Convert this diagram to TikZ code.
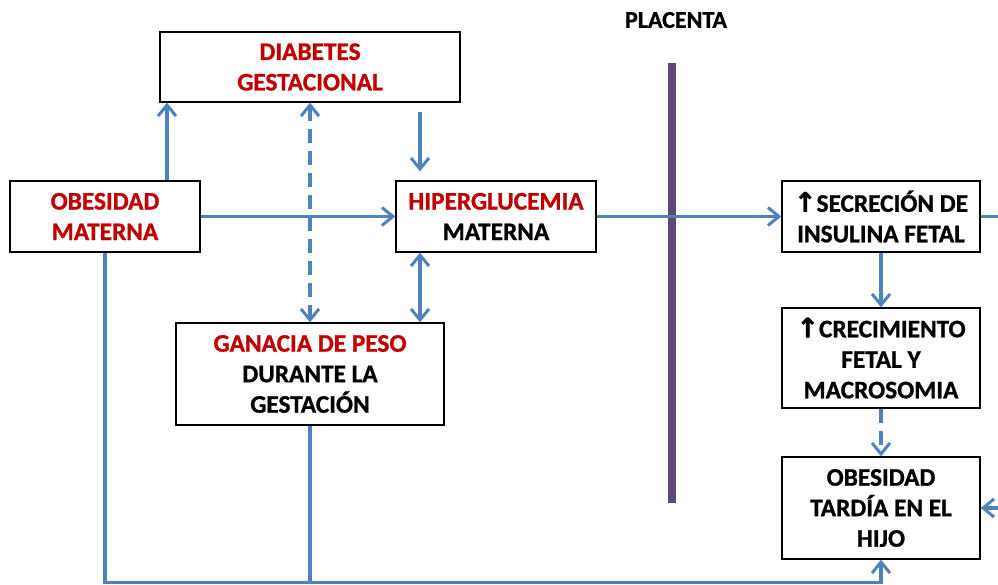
\documentclass[tikz,border=0pt]{standalone}
\usepackage{fontspec}
\setmainfont{Carlito}[BoldFeatures={FakeBold=1}]
\newfontfamily\symfont{DejaVu Sans}[BoldFeatures={FakeBold=1.5}]
\usetikzlibrary{arrows.meta}
\definecolor{lblue}{HTML}{4F81BD}
\definecolor{dred}{HTML}{C00000}
\definecolor{plac}{HTML}{5F497A}
\newcommand{\upar}{{\symfont\bfseries\fontsize{27}{30}\selectfont ↑}}
\tikzset{
  box/.style={draw=black, line width=1.4pt, align=center, inner sep=0pt,
    font=\bfseries\fontsize{25.3}{30.5}\selectfont},
  conn/.style={draw=lblue, line width=3.4pt},
  tip/.style={},
  arr/.style={conn, -{Straight Barb[length=11pt,width=18pt,line width=3pt]}},
  darr/.style={conn, {Straight Barb[length=11pt,width=18pt,line width=3pt]}-{Straight Barb[length=11pt,width=18pt,line width=3pt]}},
  dsh/.style={dash pattern=on 14pt off 8pt},
}
\begin{document}
\begin{tikzpicture}[x=1pt,y=-1pt]
\useasboundingbox (0,0) rectangle (998,585);
% placenta
\node[font=\bfseries\fontsize{24}{26}\selectfont] (pl) at (676,20) {PLACENTA};
\coordinate (pt) at (672,63);
\coordinate (pb) at (672,503);
\draw[plac, line width=8pt] (pt) -- (pb);
% boxes
\node[box, minimum width=300pt, minimum height=70pt] (dg) at (310,67)
  {\textcolor{dred}{DIABETES}\\\textcolor{dred}{GESTACIONAL}};
\node[box, minimum width=190pt, minimum height=71pt] (om) at (105,216.5)
  {\textcolor{dred}{OBESIDAD}\\\textcolor{dred}{MATERNA}};
\node[box, minimum width=200pt, minimum height=71pt] (hm) at (496,216.5)
  {\textcolor{dred}{HIPERGLUCEMIA}\\MATERNA};
\node[box, minimum width=268pt, minimum height=102pt] (gp) at (310,374)
  {\textcolor{dred}{GANACIA DE PESO}\\DURANTE LA\\GESTACIÓN};
\node[box, minimum width=198pt, minimum height=71pt] (sf) at (881,216.5)
  {\upar SECRECIÓN DE\\INSULINA FETAL};
\node[box, minimum width=198pt, minimum height=100pt] (cf) at (881,358)
  {\upar CRECIMIENTO\\FETAL Y\\MACROSOMIA};
\node[box, minimum width=198pt, minimum height=102pt] (ot) at (881,508)
  {OBESIDAD\\TARDÍA EN EL\\HIJO};
% helper coordinates
\coordinate (c167) at (167,0);
\coordinate (c420) at (420,0);
\coordinate (bot) at (0,582.5);
\coordinate (outA) at (998,216.5);
\coordinate (outB) at (998,508);
% connectors
\draw[arr] (om.north -| c167) -- (dg.south -| c167);
\draw[darr, dsh] (dg.south) -- (gp.north);
\draw[arr, shorten <=9pt, shorten >=9pt] (dg.south -| c420) -- (hm.north -| c420);
\draw[arr] (om.east) -- (hm.west);
\draw[darr] (hm.south -| c420) -- (gp.north -| c420);
\draw[arr] (hm.east) -- (sf.west);
\draw[conn] (sf.east) -- (outA);
\draw[arr] (sf.south) -- (cf.north);
\draw[arr, dsh] (cf.south) -- (ot.north);
\draw[arr] (outB) -- (ot.east);
\draw[arr] (om.south) -- (om.south |- bot) -- (ot.south |- bot) -- (ot.south);
\draw[conn] (gp.south) -- (gp.south |- bot);
\end{tikzpicture}
\end{document}
